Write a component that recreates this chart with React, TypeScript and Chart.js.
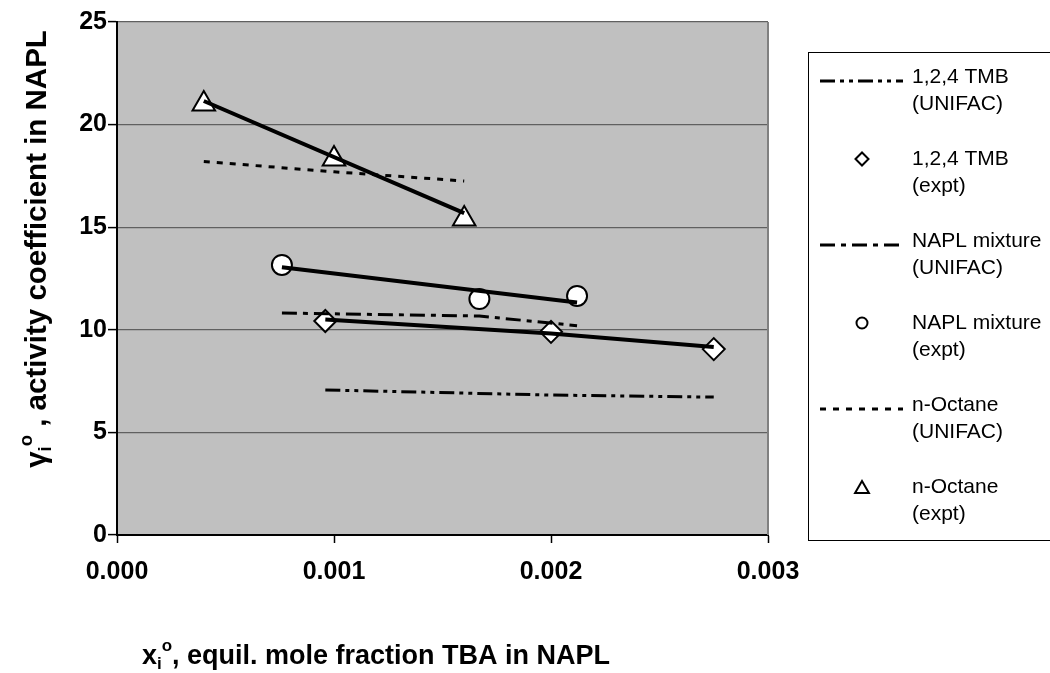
import React, { useEffect, useRef } from 'react';
import { Chart, registerables } from 'chart.js';

Chart.register(...registerables);

// ---- data ----
const xTickValues = [0, 0.001, 0.002, 0.003];
const yTickValues = [0, 5, 10, 15, 20, 25];

const tmbX = [0.00096, 0.002, 0.00275];
const tmbExpt = [10.43, 9.9, 9.06];
const tmbUnifac = [7.07, 6.82, 6.72];
const tmbFit = [10.5, 9.82, 9.16];

const naplX = [0.00076, 0.00167, 0.00212];
const naplExpt = [13.16, 11.5, 11.65];
const naplUnifac = [10.82, 10.67, 10.2];
const naplFitX = [0.00076, 0.00212];
const naplFit = [13.05, 11.33];

const octX = [0.0004, 0.001, 0.0016];
const octExpt = [21.0, 18.32, 15.4];
const octUnifac = [18.2, 17.7, 17.25];
const octFitX = [0.0004, 0.0016];
const octFit = [21.15, 15.69];

const legendLabels = [
  ['1,2,4 TMB', '(UNIFAC)'],
  ['1,2,4 TMB', '(expt)'],
  ['NAPL mixture', '(UNIFAC)'],
  ['NAPL mixture', '(expt)'],
  ['n-Octane', '(UNIFAC)'],
  ['n-Octane', '(expt)'],
];

const FONT = 'Arial, "Liberation Sans", sans-serif';
const DASH_TMB = [15, 5, 4, 5, 4, 5];
const DASH_NAPL = [15, 6, 5, 6];
const DASH_OCT = [6, 7];

const pts = (xs: number[], ys: number[]) => xs.map((x, i) => ({ x, y: ys[i] }));

type Part = { t: string; size: number; dy: number };

function drawRich(ctx: CanvasRenderingContext2D, parts: Part[], cx: number, base: number) {
  let total = 0;
  const widths = parts.map((p) => {
    ctx.font = `bold ${p.size}px ${FONT}`;
    const w = ctx.measureText(p.t).width;
    total += w;
    return w;
  });
  let x = cx - total / 2;
  ctx.textBaseline = 'alphabetic';
  ctx.textAlign = 'left';
  parts.forEach((p, i) => {
    ctx.font = `bold ${p.size}px ${FONT}`;
    ctx.fillText(p.t, x, base + p.dy);
    x += widths[i];
  });
}

function drawMarker(ctx: CanvasRenderingContext2D, style: string, x: number, y: number, r: number) {
  ctx.beginPath();
  if (style === 'rectRot') {
    ctx.moveTo(x - r, y);
    ctx.lineTo(x, y - r);
    ctx.lineTo(x + r, y);
    ctx.lineTo(x, y + r);
    ctx.closePath();
  } else if (style === 'circle') {
    ctx.arc(x, y, r, 0, Math.PI * 2);
  } else {
    ctx.moveTo(x, y - r);
    ctx.lineTo(x + r * 0.866, y + r / 2);
    ctx.lineTo(x - r * 0.866, y + r / 2);
    ctx.closePath();
  }
  ctx.fillStyle = '#fff';
  ctx.fill();
  ctx.lineWidth = 2;
  ctx.strokeStyle = '#000';
  ctx.stroke();
}

const decorPlugin = {
  id: 'decor',
  beforeDraw(chart: any) {
    const { ctx, chartArea: a } = chart;
    ctx.save();
    ctx.fillStyle = '#ffffff';
    ctx.fillRect(0, 0, chart.width, chart.height);
    ctx.fillStyle = '#C0C0C0';
    ctx.fillRect(a.left, a.top, a.right - a.left, a.bottom - a.top);
    ctx.restore();
  },
  afterDraw(chart: any) {
    const { ctx, chartArea: a } = chart;
    ctx.save();
    // right border of plot
    ctx.strokeStyle = '#808080';
    ctx.lineWidth = 2;
    ctx.beginPath();
    ctx.moveTo(a.right, a.top);
    ctx.lineTo(a.right, a.bottom);
    ctx.stroke();

    // legend box
    ctx.strokeStyle = '#000';
    ctx.lineWidth = 1;
    ctx.strokeRect(808.5, 52.5, 260, 488);

    const entries = [
      { kind: 'line', dash: DASH_TMB },
      { kind: 'point', style: 'rectRot', r: 6.5 },
      { kind: 'line', dash: DASH_NAPL },
      { kind: 'point', style: 'circle', r: 5.5 },
      { kind: 'line', dash: DASH_OCT },
      { kind: 'point', style: 'triangle', r: 8 },
    ];
    entries.forEach((e: any, i) => {
      const y = 77 + 82 * i;
      if (e.kind === 'line') {
        ctx.save();
        ctx.setLineDash(e.dash);
        ctx.lineWidth = 3;
        ctx.strokeStyle = '#000';
        ctx.beginPath();
        ctx.moveTo(820, y + 4);
        ctx.lineTo(903, y + 4);
        ctx.stroke();
        ctx.restore();
      } else {
        drawMarker(ctx, e.style, 862, y + (e.style === 'triangle' ? 2 : 0), e.r);
      }
      ctx.fillStyle = '#000';
      ctx.font = `21px ${FONT}`;
      ctx.textAlign = 'left';
      ctx.textBaseline = 'middle';
      ctx.fillText(legendLabels[i][0], 912, y);
      ctx.fillText(legendLabels[i][1], 912, y + 27);
    });

    // axis titles
    ctx.fillStyle = '#000';
    drawRich(
      ctx,
      [
        { t: 'x', size: 27, dy: 0 },
        { t: 'i', size: 17, dy: 5 },
        { t: 'o', size: 17, dy: -13 },
        { t: ', equil. mole fraction TBA in NAPL', size: 27, dy: 0 },
      ],
      376,
      664
    );
    ctx.save();
    ctx.translate(46, 249);
    ctx.rotate(-Math.PI / 2);
    drawRich(
      ctx,
      [
        { t: 'γ', size: 29.5, dy: 0 },
        { t: 'i', size: 18.5, dy: 5 },
        { t: 'o', size: 18.5, dy: -14 },
        { t: ' , activity coefficient in NAPL', size: 29.5, dy: 0 },
      ],
      0,
      0
    );
    ctx.restore();
    ctx.restore();
  },
};

export default function App() {
  const ref = useRef<HTMLCanvasElement | null>(null);

  useEffect(() => {
    if (!ref.current) return;
    const markerBase = {
      showLine: false,
      backgroundColor: '#ffffff',
      borderColor: '#000000',
      pointBorderWidth: 2,
      order: 3,
    };
    const lineBase = {
      showLine: true,
      pointRadius: 0,
      borderColor: '#000000',
      backgroundColor: '#000000',
      fill: false,
      tension: 0,
    };
    const chart = new Chart(ref.current, {
      type: 'scatter',
      data: {
        datasets: [
          { ...markerBase, label: 'tmbExpt', data: pts(tmbX, tmbExpt), pointStyle: 'rectRot', pointRadius: 11 },
          { ...markerBase, label: 'naplExpt', data: pts(naplX, naplExpt), pointStyle: 'circle', pointRadius: 10 },
          { ...markerBase, label: 'octExpt', data: pts(octX, octExpt), pointStyle: 'triangle', pointRadius: 13 },
          { ...lineBase, label: 'tmbUnifac', data: pts(tmbX, tmbUnifac), borderWidth: 3, borderDash: DASH_TMB, order: 2 },
          { ...lineBase, label: 'naplUnifac', data: pts(naplX, naplUnifac), borderWidth: 3, borderDash: DASH_NAPL, order: 2 },
          { ...lineBase, label: 'octUnifac', data: pts(octX, octUnifac), borderWidth: 3, borderDash: DASH_OCT, order: 2 },
          { ...lineBase, label: 'tmbFit', data: pts(tmbX, tmbFit), borderWidth: 4, order: 1 },
          { ...lineBase, label: 'naplFit', data: pts(naplFitX, naplFit), borderWidth: 4, order: 1 },
          { ...lineBase, label: 'octFit', data: pts(octFitX, octFit), borderWidth: 4, order: 1 },
        ] as any,
      },
      options: {
        animation: false,
        responsive: false,
        devicePixelRatio: 1,
        layout: { padding: { left: 0, top: 22, right: 282, bottom: 0 } },
        plugins: { legend: { display: false }, tooltip: { enabled: false }, title: { display: false } },
        scales: {
          x: {
            type: 'linear',
            min: 0,
            max: 0.003,
            afterBuildTicks: (s: any) => {
              s.ticks = xTickValues.map((v) => ({ value: v }));
            },
            afterFit: (s: any) => {
              s.height = 138;
            },
            ticks: {
              color: '#000',
              font: { family: FONT, size: 25, weight: 'bold' },
              padding: 14,
              maxRotation: 0,
              callback: (v: any) => Number(v).toFixed(3),
            },
            grid: { drawOnChartArea: false, drawTicks: true, tickLength: 8, tickColor: '#000', tickWidth: 1.5 },
            border: { color: '#000', width: 2 },
          },
          y: {
            type: 'linear',
            min: 0,
            max: 25,
            afterBuildTicks: (s: any) => {
              s.ticks = yTickValues.map((v) => ({ value: v }));
            },
            afterFit: (s: any) => {
              s.width = 117;
            },
            ticks: {
              color: '#000',
              font: { family: FONT, size: 25, weight: 'bold' },
              padding: 1,
            },
            grid: { color: '#606060', lineWidth: 1.2, drawTicks: true, tickLength: 9, tickColor: '#000', tickWidth: 1.5 },
            border: { color: '#000', width: 2 },
          },
        },
      } as any,
      plugins: [decorPlugin],
    });
    return () => chart.destroy();
  }, []);

  return (
    <div style={{ position: 'fixed', left: 0, top: 0, width: 1050, height: 673, background: '#fff' }}>
      <canvas ref={ref} width={1050} height={673} style={{ display: 'block', width: 1050, height: 673 }} />
    </div>
  );
}
